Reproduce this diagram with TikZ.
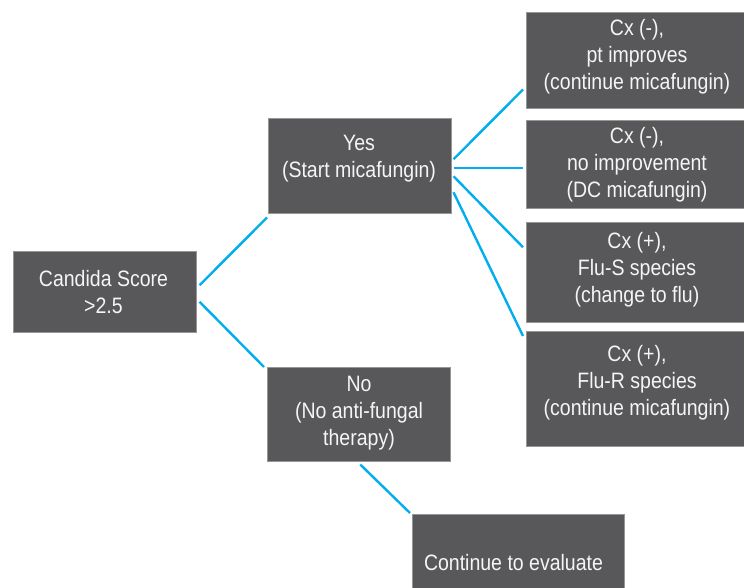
\documentclass[tikz,border=0pt]{standalone}
\usepackage{fontspec}
\newfontfamily\chartfont{Liberation Sans}[FakeStretch=0.875]
\usepackage{xcolor}
\usepackage{tikz}
\usetikzlibrary{calc, positioning}

\definecolor{boxgray}{RGB}{88,88,90}
\definecolor{linkblue}{RGB}{0,174,239}
\tikzset{
  box/.style={fill=boxgray, draw={rgb,255:red,150;green,150;blue,150}, line width=0.5pt,
    anchor=north west, inner sep=0pt},
  txt/.style={text={rgb,255:red,245;green,245;blue,245}, align=center, anchor=base,
    font=\chartfont\fontsize{22.3}{27}\selectfont, inner sep=0pt},
  link/.style={draw=linkblue, line width=2.4pt}
}

\begin{document}
\begin{tikzpicture}[x=1pt, y=-1pt]
\useasboundingbox (0,0) rectangle (744,588);
% boxes
\node[box, minimum width=183pt, minimum height=81pt] (cand) at (13,251) {};
\node[box, minimum width=183pt, minimum height=95pt] (yes) at (268,118) {};
\node[box, minimum width=183pt, minimum height=94pt] (no) at (267,367) {};
\node[box, minimum width=212pt, minimum height=74pt] (cont) at (412,514) {};
\node[box, minimum width=218pt, minimum height=96pt] (r1) at (526,12) {};
\node[box, minimum width=218pt, minimum height=88pt] (r2) at (526,120) {};
\node[box, minimum width=218pt, minimum height=100pt] (r3) at (526,222) {};
\node[box, minimum width=218pt, minimum height=115pt] (r4) at (526,331) {};
% texts (placed at baseline of last line)
\node[txt] (cand-t) at (103.5,313) {Candida Score\\>2.5};
\node[txt] (yes-t) at (359,178) {Yes\\(Start micafungin)};
\node[txt] (no-t) at (359,445) {No\\(No anti-fungal\\therapy)};
\node[txt] (cont-t) at (513.5,570) {Continue to evaluate};
\node[txt] (r1-t) at (637,90) {Cx (-),\\pt improves\\(continue micafungin)};
\node[txt] (r2-t) at (637,197) {Cx (-),\\no improvement\\(DC micafungin)};
\node[txt] (r3-t) at (637,302) {Cx (+),\\Flu-S species\\(change to flu)};
\node[txt] (r4-t) at (637,415) {Cx (+),\\Flu-R species\\(continue micafungin)};
% links
\draw[link] ($(cand.east)+(3,-6.5)$) -- ($(yes.south west)+(-1,4)$);
\draw[link] ($(cand.east)+(3,10)$) -- ($(no.north west)+(-3,0)$);
\draw[link] ($(yes.east)+(2,-6.5)$) -- ($(r1.south west)+(-3,-19)$);
\draw[link] ($(yes.east)+(2,2.5)$) -- ($(r2.west)+(-3,4)$);
\draw[link] ($(yes.east)+(2,10.5)$) -- ($(r3.west)+(-3,-25)$);
\draw[link] ($(yes.east)+(2,26.5)$) -- ($(r4.north west)+(-3,5)$);
\draw[link] ($(no.south)+(1.5,3)$) -- ($(cont.north west)+(-2,-1)$);
\end{tikzpicture}
\end{document}
